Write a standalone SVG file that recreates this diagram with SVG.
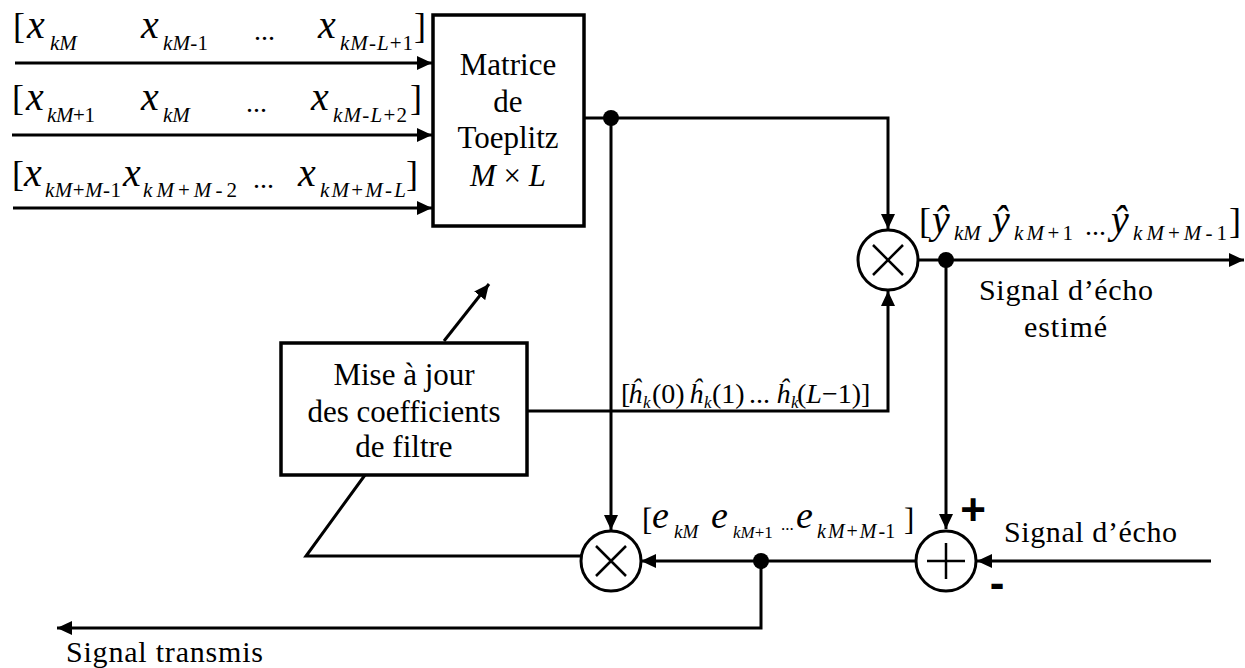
<svg xmlns="http://www.w3.org/2000/svg" width="1245" height="668" viewBox="0 0 1245 668" font-family="'Liberation Serif', 'DejaVu Serif', serif">
  <style>
    .ln { fill: none; stroke: #000; stroke-width: 3; }
    .box { fill: #fff; stroke: #000; stroke-width: 3.5; }
    .op { fill: #fff; stroke: #000; stroke-width: 3; }
    .sym { fill: none; stroke: #000; stroke-width: 2.5; }
    .dot { fill: #000; }
    text { font-family: 'Liberation Serif', 'DejaVu Serif', serif; fill: #000; }
    .t { font-size: 30px; }
    .mc { font-size: 31px; text-anchor: middle; }
    .mi { font-style: italic; font-size: 40px; }
    .mr { font-size: 36px; }
    .sb { font-style: italic; font-size: 21px; }
    .sr { font-style: normal; }
    .dots { font-size: 28px; }
    .h { font-size: 28px; }
    .hi { font-style: italic; }
    .hk { font-style: italic; font-size: 17px; }
    .sign { font-family: 'Liberation Sans', Arial, sans-serif; font-weight: bold; font-size: 44px; text-anchor: middle; }
  </style>
  <defs>
    <marker id="arrow" viewBox="0 0 15 14" refX="15" refY="7" markerWidth="15" markerHeight="14" markerUnits="userSpaceOnUse" orient="auto">
      <path d="M0,0 L15,7 L0,14 z" fill="#000"/>
    </marker>
  </defs>

  <!-- connectors -->
  <g id="connectors">
    <path class="ln" d="M15,63 H432" marker-end="url(#arrow)"/>
    <path class="ln" d="M12,135 H432" marker-end="url(#arrow)"/>
    <path class="ln" d="M13,208 H432" marker-end="url(#arrow)"/>
    <path class="ln" d="M584,118 H888 V229" marker-end="url(#arrow)"/>
    <path class="ln" d="M611,118 V530" marker-end="url(#arrow)"/>
    <path class="ln" d="M444,341 L489,284" marker-end="url(#arrow)"/>
    <path class="ln" d="M527,411 H888 V291" marker-end="url(#arrow)"/>
    <path class="ln" d="M918,260 H1244" marker-end="url(#arrow)"/>
    <path class="ln" d="M946,260 V529" marker-end="url(#arrow)"/>
    <path class="ln" d="M1211,561 H977" marker-end="url(#arrow)"/>
    <path class="ln" d="M916,561 H641" marker-end="url(#arrow)"/>
    <path class="ln" d="M582,556 H306 L365,475"/>
    <path class="ln" d="M761,561 V628 H57" marker-end="url(#arrow)"/>
    <circle class="dot" cx="611" cy="118" r="8"/>
    <circle class="dot" cx="946" cy="260" r="8"/>
    <circle class="dot" cx="761" cy="561" r="8"/>
  </g>

  <!-- Toeplitz matrix block -->
  <g id="toeplitz">
    <rect class="box" x="433" y="15" width="151" height="211" stroke-width="3"/>
    <text class="mc" x="508" y="75">Matrice</text>
    <text class="mc" x="508" y="112">de</text>
    <text class="mc" x="508" y="148">Toeplitz</text>
    <text class="mc" x="508" y="186"><tspan font-style="italic">M</tspan> × <tspan font-style="italic">L</tspan></text>
  </g>

  <!-- coefficient update block -->
  <g id="update">
    <rect class="box" x="281" y="343" width="246" height="132"/>
    <text class="mc" x="404" y="385" font-size="30">Mise à jour</text>
    <text class="mc" x="404" y="422" font-size="30">des coefficients</text>
    <text class="mc" x="404" y="457" font-size="30">de filtre</text>
  </g>

  <!-- multiplier producing the echo estimate -->
  <g id="mult-echo">
    <circle class="op" cx="888" cy="260" r="30"/>
    <path class="sym" d="M873,245 L903,275 M903,245 L873,275"/>
  </g>

  <!-- multiplier for the error/input product -->
  <g id="mult-error">
    <circle class="op" cx="611" cy="561" r="30"/>
    <path class="sym" d="M596,546 L626,576 M626,546 L596,576"/>
  </g>

  <!-- summing junction -->
  <g id="adder">
    <circle class="op" cx="946" cy="561" r="30"/>
    <path class="sym" d="M927,561 H965 M946,543 V579"/>
    <text class="sign" x="973" y="525">+</text>
    <text class="sign" x="997" y="598">-</text>
  </g>

  <!-- input vectors -->
  <g id="inputs">
    <text class="mr" x="13" y="38">[</text>
    <text class="mi" x="27" y="38">x</text>
    <text class="sb" x="50" y="50">kM</text>
    <text class="mi" x="141" y="38">x</text>
    <text class="sb" x="163" y="50" textLength="45">kM<tspan class="sr">-1</tspan></text>
    <text class="dots" x="254" y="40">...</text>
    <text class="mi" x="318" y="38">x</text>
    <text class="sb" x="340" y="50" textLength="73">kM<tspan class="sr">-</tspan>L<tspan class="sr">+1</tspan></text>
    <text class="mr" x="414" y="38">]</text>

    <text class="mr" x="12" y="110">[</text>
    <text class="mi" x="26" y="110">x</text>
    <text class="sb" x="47" y="122" textLength="48">kM<tspan class="sr">+1</tspan></text>
    <text class="mi" x="141" y="110">x</text>
    <text class="sb" x="163" y="122">kM</text>
    <text class="dots" x="246" y="112">...</text>
    <text class="mi" x="311" y="110">x</text>
    <text class="sb" x="333" y="122" textLength="74">kM<tspan class="sr">-</tspan>L<tspan class="sr">+2</tspan></text>
    <text class="mr" x="410" y="110">]</text>

    <text class="mr" x="12" y="186">[</text>
    <text class="mi" x="24" y="186">x</text>
    <text class="sb" x="45" y="197" textLength="76">kM<tspan class="sr">+</tspan>M<tspan class="sr">-1</tspan></text>
    <text class="mi" x="123" y="186">x</text>
    <text class="sb" x="143" y="197" textLength="94">kM<tspan class="sr">+</tspan>M<tspan class="sr">-2</tspan></text>
    <text class="dots" x="253" y="188">...</text>
    <text class="mi" x="298" y="186">x</text>
    <text class="sb" x="320" y="197" textLength="86">kM<tspan class="sr">+</tspan>M<tspan class="sr">-</tspan>L</text>
    <text class="mr" x="406" y="186">]</text>
  </g>

  <!-- estimated echo vector -->
  <g id="echo-estimate">
    <text class="mr" x="919" y="233">[</text>
    <text class="mi" x="932" y="233">ŷ</text>
    <text class="sb" x="954" y="240" font-size="22">kM</text>
    <text class="mi" x="992" y="233">ŷ</text>
    <text class="sb" x="1014" y="240" font-size="22" textLength="59">kM<tspan class="sr">+1</tspan></text>
    <text class="dots" x="1085" y="235">...</text>
    <text class="mi" x="1111" y="233">ŷ</text>
    <text class="sb" x="1133" y="240" font-size="22" textLength="94">kM<tspan class="sr">+</tspan>M<tspan class="sr">-1</tspan></text>
    <text class="mr" x="1229" y="233">]</text>
    <text class="t" x="979" y="300" textLength="174">Signal d’écho</text>
    <text class="t" x="1024" y="337" textLength="83">estimé</text>
  </g>

  <!-- filter coefficients vector -->
  <g id="coefficients">
    <text class="h" y="403"><tspan x="621">[</tspan><tspan class="hi" x="628">ĥ</tspan><tspan class="hk" x="643" y="408">k</tspan><tspan x="652" y="403">(0)</tspan><tspan class="hi" x="689">ĥ</tspan><tspan class="hk" x="704" y="408">k</tspan><tspan x="712" y="403">(1)</tspan><tspan x="749">...</tspan><tspan class="hi" x="776">ĥ</tspan><tspan class="hk" x="791" y="408">k</tspan><tspan x="797" y="403">(</tspan><tspan class="hi">L</tspan><tspan>−1)]</tspan></text>
  </g>

  <!-- error vector, set as one line of text -->
  <g id="error">
    <text font-size="31"><tspan x="642" y="530">[</tspan><tspan x="652" y="528" font-size="38" font-style="italic">e</tspan><tspan x="674" y="538" font-size="19" font-style="italic">kM</tspan><tspan x="711" y="528" font-size="38" font-style="italic">e</tspan><tspan x="733" y="538" font-size="17" font-style="italic">kM</tspan><tspan font-size="17" y="538">+1</tspan><tspan x="781" y="530" font-size="17">...</tspan><tspan x="796" y="528" font-size="38" font-style="italic">e</tspan><tspan x="817" y="538" font-size="20" font-style="italic" letter-spacing="2">kM</tspan><tspan font-size="20" letter-spacing="2">+</tspan><tspan font-size="20" font-style="italic" letter-spacing="2">M</tspan><tspan font-size="20">-1</tspan><tspan x="904" y="530">]</tspan></text>
  </g>

  <!-- external signal labels -->
  <g id="labels">
    <text class="t" x="1004" y="542" textLength="173">Signal d’écho</text>
    <text class="t" x="66" y="662" textLength="197">Signal transmis</text>
  </g>
</svg>
